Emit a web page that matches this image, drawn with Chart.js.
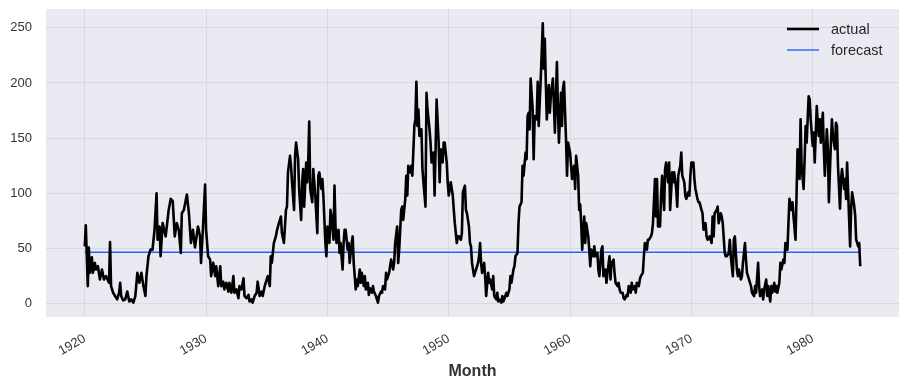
<!DOCTYPE html>
<html>
<head>
<meta charset="utf-8">
<script src="https://cdn.jsdelivr.net/npm/chart.js@4.4.1/dist/chart.umd.min.js"></script>
<style>
  html, body { margin: 0; padding: 0; background: #fff; }
</style>
</head>
<body>
<canvas id="sunspotChart" width="908" height="387"></canvas>
<script>
(function () {
    "use strict";

    // months counted from Jan 1920
    var months = [
        0, 1, 3, 4, 5, 7, 8, 10, 11, 13,
        15, 17, 19, 21, 24, 25, 26, 28, 30, 32,
        34, 35, 36, 38, 40, 42, 44, 46, 48, 50,
        52, 54, 56, 58, 60, 61, 63, 65, 67, 69,
        71, 72, 74, 75, 77, 80, 83, 85, 87, 89,
        91, 93, 95, 96, 98, 101, 103, 105, 107, 109,
        112, 114, 115, 117, 119, 120, 122, 124, 125, 127,
        129, 130, 132, 134, 135, 137, 138, 140, 142, 143,
        145, 147, 148, 150, 152, 153, 155, 157, 158, 160,
        162, 163, 165, 166, 168, 170, 171, 173, 175, 176,
        178, 180, 181, 183, 184, 185, 187, 189, 190, 192,
        194, 195, 197, 199, 200, 201, 203, 204, 205, 207,
        208, 209, 211, 212, 214, 215, 216, 217, 219, 220,
        221, 222, 223, 225, 226, 227, 228, 230, 231, 232,
        234, 235, 236, 238, 239, 240, 242, 243, 244, 246,
        247, 248, 249, 251, 252, 253, 255, 256, 257, 258,
        260, 261, 262, 264, 265, 266, 268, 269, 270, 272,
        273, 274, 276, 277, 278, 280, 281, 282, 284, 285,
        286, 288, 289, 290, 291, 293, 294, 295, 297, 298,
        299, 301, 302, 303, 305, 306, 307, 309, 310, 311,
        313, 314, 315, 317, 318, 319, 320, 322, 323, 324,
        326, 327, 328, 329, 330, 331, 333, 334, 335, 337,
        338, 339, 341, 342, 343, 345, 346, 347, 348, 350,
        351, 352, 354, 355, 356, 358, 359, 360, 362, 364,
        365, 366, 368, 369, 370, 372, 373, 374, 376, 377,
        378, 380, 381, 382, 383, 385, 386, 387, 389, 390,
        391, 392, 393, 395, 396, 397, 399, 400, 401, 403,
        404, 405, 407, 408, 409, 410, 412, 413, 414, 416,
        417, 418, 420, 421, 422, 424, 425, 426, 428, 429,
        430, 432, 433, 434, 436, 437, 438, 439, 440, 441,
        443, 444, 445, 447, 448, 449, 451, 452, 453, 454,
        455, 456, 457, 459, 460, 461, 463, 464, 465, 467,
        468, 469, 471, 472, 473, 474, 476, 477, 478, 480,
        481, 482, 484, 485, 486, 488, 489, 490, 491, 492,
        494, 495, 496, 498, 499, 500, 501, 503, 504, 505,
        507, 508, 509, 511, 512, 513, 515, 516, 517, 519,
        520, 521, 523, 524, 525, 527, 528, 529, 530, 532,
        533, 534, 536, 537, 538, 540, 541, 542, 544, 545,
        546, 548, 549, 550, 552, 553, 554, 556, 557, 558,
        560, 561, 562, 564, 565, 566, 567, 569, 570, 571,
        573, 574, 575, 577, 578, 579, 581, 582, 583, 585,
        586, 587, 589, 590, 591, 593, 594, 595, 597, 598,
        599, 600, 602, 603, 604, 606, 607, 608, 610, 611,
        612, 614, 615, 616, 618, 620, 621, 622, 623, 625,
        626, 627, 629, 630, 631, 633, 634, 635, 637, 638,
        639, 641, 642, 643, 645, 646, 647, 649, 650, 651,
        653, 654, 655, 656, 658, 659, 660, 662, 663, 664,
        666, 667, 668, 670, 671, 672, 674, 675, 676, 678,
        679, 680, 682, 683, 684, 685, 687, 688, 689, 691,
        692, 693, 695, 696, 697, 699, 700, 701, 703, 704,
        705, 707, 708, 709, 711, 712, 713, 714, 716, 717,
        718, 720, 721, 722, 724, 725, 726, 727, 728, 730,
        731, 732, 734, 735, 736, 738, 739, 740, 742, 743,
        744, 745, 747, 748, 749, 751, 752, 753, 754, 756,
        757, 758, 759, 761, 762, 763, 765, 766, 767
    ];

    var actual = [
        52, 71, 16, 51, 28, 42, 28, 37, 31, 34,
        22, 31, 22, 25, 19, 56, 16, 10, 7, 4,
        10, 19, 7, 3, 4, 11, 2, 4, 1, 7,
        28, 19, 28, 16, 7, 25, 43, 49, 49, 67,
        100, 58, 70, 43, 73, 61, 85, 95, 93, 61,
        73, 67, 46, 82, 85, 99, 82, 55, 67, 51,
        70, 61, 37, 70, 108, 67, 43, 40, 25, 37,
        25, 34, 16, 34, 16, 20, 13, 19, 11, 19,
        10, 25, 10, 13, 5, 16, 13, 23, 7, 5,
        8, 2, 4, 1, 7, 10, 20, 7, 11, 7,
        16, 22, 25, 16, 43, 37, 55, 61, 66, 73,
        79, 64, 55, 85, 88, 119, 134, 125, 110, 85,
        134, 146, 131, 104, 76, 110, 122, 88, 128, 110,
        128, 165, 104, 92, 122, 110, 98, 64, 116, 119,
        104, 113, 98, 55, 43, 70, 55, 85, 79, 58,
        107, 70, 55, 67, 46, 55, 31, 55, 67, 67,
        49, 55, 37, 55, 61, 37, 13, 22, 16, 31,
        19, 28, 16, 25, 13, 19, 8, 14, 10, 16,
        11, 7, 4, 1, 7, 11, 10, 16, 13, 28,
        22, 28, 34, 40, 31, 37, 55, 70, 37, 49,
        85, 88, 76, 95, 116, 98, 125, 119, 125, 116,
        161, 167, 201, 161, 176, 152, 158, 122, 110, 88,
        191, 176, 158, 146, 128, 137, 98, 140, 185, 146,
        110, 140, 128, 146, 146, 128, 110, 98, 110, 98,
        85, 73, 55, 61, 61, 58, 64, 101, 107, 85,
        82, 70, 55, 52, 37, 25, 28, 31, 37, 43,
        55, 37, 28, 37, 25, 7, 28, 19, 22, 13,
        25, 7, 4, 10, 2, 4, 1, 7, 2, 7,
        10, 7, 13, 25, 19, 31, 34, 43, 46, 73,
        88, 92, 125, 116, 137, 131, 170, 173, 158, 204,
        176, 131, 170, 167, 201, 161, 204, 228, 254, 213,
        240, 201, 167, 198, 173, 188, 204, 182, 155, 219,
        176, 146, 191, 161, 195, 201, 149, 116, 146, 137,
        125, 113, 125, 104, 134, 116, 85, 90, 73, 49,
        79, 55, 73, 61, 49, 34, 49, 43, 52, 43,
        46, 31, 25, 49, 52, 25, 31, 19, 28, 43,
        22, 37, 40, 28, 19, 16, 19, 13, 10, 10,
        5, 4, 8, 7, 16, 10, 19, 13, 16, 10,
        19, 16, 22, 25, 28, 43, 55, 49, 58, 58,
        61, 64, 73, 113, 79, 113, 70, 70, 98, 116,
        85, 122, 128, 110, 128, 85, 119, 110, 119, 104,
        88, 116, 125, 137, 116, 110, 98, 95, 101, 98,
        116, 128, 128, 113, 104, 95, 92, 92, 85, 82,
        67, 73, 61, 58, 61, 55, 79, 61, 82, 85,
        88, 73, 82, 79, 73, 46, 43, 43, 46, 58,
        43, 25, 58, 61, 31, 25, 31, 22, 25, 37,
        55, 40, 28, 25, 19, 16, 10, 7, 16, 10,
        37, 16, 7, 13, 4, 13, 22, 7, 16, 2,
        16, 10, 19, 11, 16, 10, 19, 37, 31, 40,
        37, 55, 49, 73, 95, 85, 92, 79, 58, 98,
        140, 113, 167, 125, 104, 131, 161, 146, 188, 185,
        167, 143, 155, 128, 179, 164, 152, 167, 146, 173,
        140, 116, 158, 140, 92, 146, 167, 152, 140, 164,
        161, 125, 86, 113, 122, 104, 113, 95, 128, 77,
        52, 86, 101, 89, 80, 58, 52, 55, 34
    ];

    var forecastMonths = [0, 767];
    var forecast = [46.6, 46.6];

    var yearTicks = [1920, 1930, 1940, 1950, 1960, 1970, 1980];
    var yTicks = [0, 50, 100, 150, 200, 250];

    function toPoints(xs, ys) {
        return xs.map(function (x, i) { return { x: x, y: ys[i] }; });
    }

    var plotBackground = {
        id: 'plotBackground',
        beforeDraw: function (chart) {
            var a = chart.chartArea, c = chart.ctx;
            c.save();
            c.fillStyle = '#eaeaf2';
            c.fillRect(a.left, a.top, a.right - a.left, a.bottom - a.top);
            c.restore();
        }
    };

    // legend drawn inside the plot, upper right
    var innerLegend = {
        id: 'innerLegend',
        afterDraw: function (chart) {
            var a = chart.chartArea, c = chart.ctx;
            var rows = chart.data.datasets;
            c.save();
            c.font = '14.5px "Liberation Sans", Arial, sans-serif';
            c.textBaseline = 'middle';
            rows.forEach(function (ds, i) {
                var y = a.top + 20 + i * 21;
                c.strokeStyle = ds.borderColor;
                c.lineWidth = ds.borderWidth;
                c.beginPath();
                c.moveTo(a.right - 112, y);
                c.lineTo(a.right - 80, y);
                c.stroke();
                c.fillStyle = '#262626';
                c.fillText(ds.label, a.right - 68, y + 1);
            });
            c.restore();
        }
    };

    var ctx = document.getElementById("sunspotChart");
    var myChart = new Chart(ctx, {
        type: 'line',
        data: {
            datasets: [
                {
                    label: "actual",
                    data: toPoints(months, actual),
                    borderColor: "#000000",
                    borderWidth: 2.6,
                    borderJoinStyle: 'round',
                    pointRadius: 0,
                    tension: 0
                },
                {
                    label: "forecast",
                    data: toPoints(forecastMonths, forecast),
                    borderColor: "#2962ff",
                    borderWidth: 1.4,
                    pointRadius: 0,
                    tension: 0
                }
            ]
        },
        options: {
            responsive: false,
            animation: false,
            layout: { padding: { top: 9, right: 9, left: 0, bottom: 0 } },
            plugins: {
                legend: { display: false },
                tooltip: { enabled: false }
            },
            scales: {
                x: {
                    type: 'linear',
                    min: -38.35,
                    max: 805.35,
                    afterBuildTicks: function (s) {
                        s.ticks = yearTicks.map(function (yr) { return { value: (yr - 1920) * 12 }; });
                    },
                    afterFit: function (s) {
                        s.height = 70;
                        s.paddingLeft = 0;
                        s.paddingRight = 0;
                    },
                    grid: { color: '#d9d9e0', drawTicks: false },
                    border: { display: false },
                    ticks: {
                        minRotation: 30,
                        maxRotation: 30,
                        padding: 14,
                        color: '#333333',
                        font: { family: '"Liberation Sans", Arial, sans-serif', size: 13 },
                        callback: function (v) { return String(1920 + Math.round(v / 12)); }
                    },
                    title: {
                        display: true,
                        text: 'Month',
                        color: '#333333',
                        padding: { top: 0, bottom: 6 },
                        font: { family: '"Liberation Sans", Arial, sans-serif', size: 16, weight: 'bold' }
                    }
                },
                y: {
                    min: -12,
                    max: 267,
                    afterBuildTicks: function (s) {
                        s.ticks = yTicks.map(function (v) { return { value: v }; });
                    },
                    afterFit: function (s) {
                        s.width = 46;
                        s.paddingTop = 0;
                        s.paddingBottom = 0;
                    },
                    grid: { color: '#d9d9e0', drawTicks: false },
                    border: { display: false },
                    ticks: {
                        padding: 14,
                        color: '#333333',
                        font: { family: '"Liberation Sans", Arial, sans-serif', size: 13 }
                    }
                }
            }
        },
        plugins: [plotBackground, innerLegend]
    });

})();
</script>
</body>
</html>
